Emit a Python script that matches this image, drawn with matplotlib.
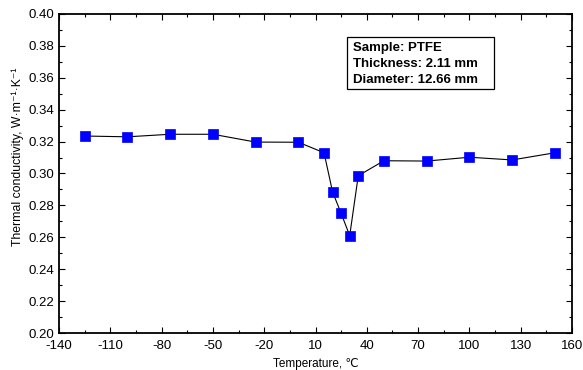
import numpy as np
import matplotlib.pyplot as plt
from matplotlib.ticker import MultipleLocator
from matplotlib.patches import Rectangle

plt.rcParams['font.family'] = ['Liberation Sans', 'DejaVu Sans']
plt.rcParams['axes.unicode_minus'] = False

temperature = [-125, -100, -75, -50, -25, 0, 15, 20, 25, 30, 35, 50, 75, 100, 125, 150]
conductivity = [0.3235, 0.323, 0.3246, 0.3246, 0.3197, 0.3196, 0.313, 0.2884,
                0.275, 0.261, 0.2986, 0.308, 0.3078, 0.3102, 0.3085, 0.313]
x_ticks = [-140, -110, -80, -50, -20, 10, 40, 70, 100, 130, 160]
info_lines = ["Sample: PTFE", "Thickness: 2.11 mm", "Diameter: 12.66 mm"]

fig = plt.figure(figsize=(5.83, 3.70), dpi=100)
ax = fig.add_axes([59 / 583, 1 - 333 / 370, 513 / 583, 319 / 370])

ax.plot(temperature, conductivity, color='black', linewidth=0.8,
        marker='s', markersize=6.5, markerfacecolor='#0000ff',
        markeredgecolor='#0000ff', markeredgewidth=0.5)

ax.set_xlim(-140, 160)
ax.set_ylim(0.20, 0.40)
ax.set_xticks(x_ticks)
ax.set_xticks(np.arange(-140, 161, 15), minor=True)
ax.yaxis.set_major_locator(MultipleLocator(0.02))
ax.yaxis.set_minor_locator(MultipleLocator(0.01))
ax.yaxis.set_major_formatter(plt.FormatStrFormatter('%.2f'))
ax.tick_params(which='both', direction='in', top=True, right=True,
               labelsize=9.5, width=0.8)
ax.tick_params(which='major', length=4)
ax.tick_params(which='minor', length=2.5)
ax.tick_params(axis='x', pad=5)
for s in ax.spines.values():
    s.set_linewidth(1.3)

ax.set_xlabel('Temperature, ℃', fontsize=8.5, labelpad=4)
ax.set_ylabel('Thermal conductivity, W·m⁻¹·K⁻¹', fontsize=8.8)
ax.yaxis.set_label_coords(-0.069, 0.552)

# info box
ax.add_patch(Rectangle((0.5614, 0.765), 0.287, 0.164, transform=ax.transAxes,
                       facecolor='white', edgecolor='black', linewidth=0.9,
                       zorder=3))
ax.text(0.573, 0.912, "\n".join(info_lines), transform=ax.transAxes,
        fontsize=9.5, fontweight='bold', va='top', ha='left',
        linespacing=1.45, zorder=4)

fig.savefig('out.png', dpi=100)
